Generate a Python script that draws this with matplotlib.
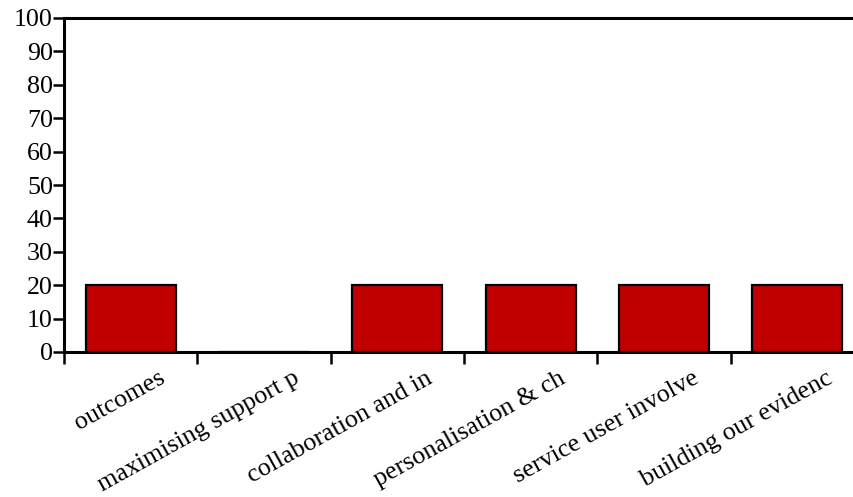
import matplotlib
matplotlib.use('Agg')
import matplotlib.pyplot as plt
import numpy as np

categories = ['outcomes', 'maximising support p', 'collaboration and in',
              'personalisation & ch', 'service user involve', 'building our evidenc']
values = [20, 0, 20, 20, 20, 20]
y_ticks = list(range(0, 101, 10))

plt.rcParams['font.family'] = ['Liberation Serif', 'DejaVu Serif']

W, H = 854, 497
fig = plt.figure(figsize=(W / 100, H / 100), dpi=100)
# axes runs slightly past the right edge, as in the reference
ax = fig.add_axes([64 / W, (H - 352) / H, 800 / W, 334 / H])

x = np.arange(len(categories))
ax.bar(x, values, width=0.675, color='#C00000', edgecolor='black',
       linewidth=1.6, zorder=3)

ax.set_xlim(-0.5, len(categories) - 0.5)
ax.set_ylim(0, 100)
ax.set_yticks(y_ticks)
ax.tick_params(axis='y', direction='out', length=8, width=1.8,
               labelsize=18.7, pad=0)

# x ticks sit on the category boundaries, labels are placed by hand
ax.set_xticks(np.arange(len(categories) + 1) - 0.5)
ax.set_xticklabels([])
ax.tick_params(axis='x', direction='out', length=8.5, width=1.8)

for i, lbl in enumerate(categories):
    ax.text(i + 0.21, -0.045, lbl, transform=ax.get_xaxis_transform(),
            rotation=29, rotation_mode='anchor', ha='right', va='top',
            fontsize=18.7)

for side in ['left', 'bottom', 'top', 'right']:
    ax.spines[side].set_linewidth(2.2)

fig.savefig('out.png', dpi=100)
